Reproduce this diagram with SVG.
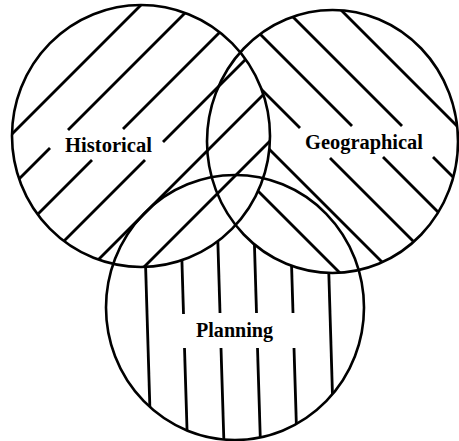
<svg xmlns="http://www.w3.org/2000/svg" width="459" height="441" viewBox="0 0 459 441">
  <style>
    .outline { fill: none; stroke: #000; stroke-width: 2.6; }
    .hatch { stroke: #000; stroke-width: 2.8; stroke-linecap: butt; fill: none; }
    .label { font-family: "Liberation Serif", "Times New Roman", serif; font-weight: bold; font-size: 20px; fill: #000; }
  </style>
  <defs>
    <mask id="mL" maskUnits="userSpaceOnUse" x="0" y="0" width="459" height="441">
      <ellipse cx="141" cy="136" rx="129" ry="131" fill="#fff"/>
    </mask>
    <mask id="mR" maskUnits="userSpaceOnUse" x="0" y="0" width="459" height="441">
      <ellipse cx="332.5" cy="141.5" rx="125.5" ry="131.5" fill="#fff"/>
      <ellipse cx="141" cy="136" rx="129" ry="131" fill="#000"/>
    </mask>
    <mask id="mB" maskUnits="userSpaceOnUse" x="0" y="0" width="459" height="441">
      <ellipse cx="235" cy="307.5" rx="129" ry="132.5" fill="#fff"/>
      <ellipse cx="141" cy="136" rx="129" ry="131" fill="#000"/>
      <ellipse cx="332.5" cy="141.5" rx="125.5" ry="131.5" fill="#000"/>
    </mask>
  </defs>
  <rect x="0" y="0" width="459" height="441" fill="#fff"/>

  <g id="historical">
    <g class="hatch" mask="url(#mL)">
      <line x1="-20" y1="166" x2="166" y2="-20"/>
      <line x1="-20" y1="218" x2="50" y2="148"/>
      <line x1="68" y1="130" x2="230" y2="-32"/>
      <line x1="0" y1="252" x2="92" y2="160"/>
      <line x1="123" y1="129" x2="260" y2="-8"/>
      <line x1="20" y1="285" x2="145" y2="160"/>
      <line x1="163" y1="142" x2="300" y2="5"/>
      <line x1="80" y1="278" x2="290" y2="68"/>
      <line x1="130" y1="281" x2="290" y2="121"/>
    </g>
  </g>

  <g id="geographical">
    <g class="hatch" mask="url(#mR)">
      <line x1="320" y1="-11" x2="470" y2="139"/>
      <line x1="260" y1="-16" x2="402" y2="126"/>
      <line x1="433" y1="157" x2="480" y2="204"/>
      <line x1="220" y1="-6" x2="352" y2="126"/>
      <line x1="383" y1="157" x2="470" y2="244"/>
      <line x1="200" y1="28" x2="300" y2="128"/>
      <line x1="330" y1="158" x2="460" y2="288"/>
      <line x1="200" y1="80" x2="420" y2="300"/>
      <line x1="200" y1="133" x2="380" y2="313"/>
    </g>
  </g>

  <g id="planning">
    <g class="hatch" mask="url(#mB)">
      <line x1="144.5" y1="230" x2="151" y2="445"/>
      <line x1="181" y1="230" x2="183.5" y2="314"/>
      <line x1="184.5" y1="348" x2="187.5" y2="445"/>
      <line x1="217.5" y1="230" x2="220" y2="313"/>
      <line x1="221" y1="348" x2="224" y2="445"/>
      <line x1="254" y1="230" x2="256.5" y2="313"/>
      <line x1="257.5" y1="348" x2="260.5" y2="445"/>
      <line x1="290.5" y1="230" x2="293" y2="313"/>
      <line x1="294" y1="348" x2="297" y2="445"/>
      <line x1="327.5" y1="230" x2="334" y2="445"/>
    </g>
  </g>

  <g id="outlines">
    <ellipse class="outline" cx="141" cy="136" rx="129" ry="131"/>
    <ellipse class="outline" cx="332.5" cy="141.5" rx="125.5" ry="131.5"/>
    <ellipse class="outline" cx="235" cy="307.5" rx="129" ry="132.5"/>
  </g>

  <g id="labels">
    <text class="label" x="65" y="152" textLength="87" lengthAdjust="spacingAndGlyphs">Historical</text>
    <text class="label" x="305" y="149" textLength="118" lengthAdjust="spacingAndGlyphs">Geographical</text>
    <text class="label" x="196" y="337" textLength="77" lengthAdjust="spacingAndGlyphs">Planning</text>
  </g>
</svg>
